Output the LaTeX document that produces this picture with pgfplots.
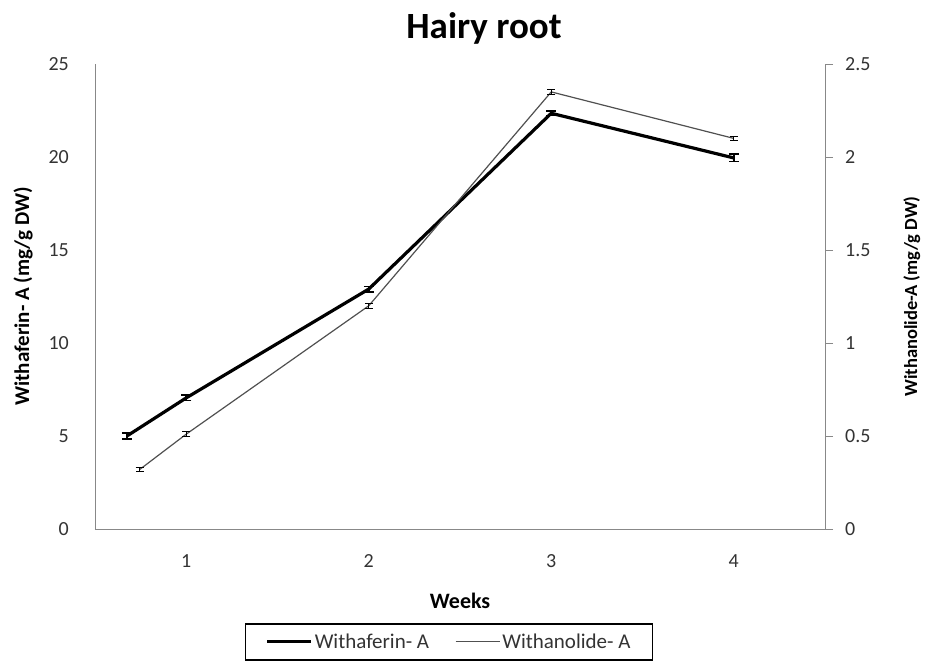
\documentclass[border=0pt]{standalone}
\usepackage{pgfplots}
\pgfplotsset{compat=1.18}
\usepackage{fontspec}
\setmainfont{Carlito}
\definecolor{axgray}{HTML}{888888}
\definecolor{txtgray}{HTML}{333333}
\definecolor{thingray}{HTML}{505050}
\begin{document}
\begin{tikzpicture}
\pgfplotsset{
  common/.style={
    scale only axis, width=730pt, height=465pt,
    xmin=0.5, xmax=4.5,
    axis line style={axgray, line width=0.9pt},
    tick label style={font=\fontsize{20}{22}\selectfont, text=txtgray, inner sep=0pt},
    /pgf/number format/assume math mode=true,
  },
}
\begin{axis}[common, name=main,
  ymin=0, ymax=25, ytick={0,5,10,15,20,25},
  axis x line*=bottom, axis y line*=left,
  xtick={1,2,3,4},
  major tick length=0pt,
  xticklabel style={anchor=center, yshift=-32pt},
  yticklabel style={anchor=east, xshift=-26pt},
  xlabel={Weeks},
  xlabel style={at={(axis description cs:0.5,0)}, anchor=center, yshift=-72pt,
    font=\bfseries\fontsize{22}{24}\selectfont},
  ylabel={Withaferin- A (mg/g DW)},
  ylabel style={at={(axis description cs:-0.0986,0.5)}, anchor=center,
    font=\bfseries\fontsize{21}{23}\selectfont},
]
\addplot[black, line width=3.2pt, mark=none,
  error bars/.cd, y dir=both, y explicit,
  error bar style={line width=1.5pt, black},
  error mark options={rotate=90, mark size=5pt, line width=1.5pt, black}]
  table[x=x, y=y, y error=e] {
x y e
0.675 5.00 0.15
1 7.05 0.15
2 12.90 0.15
3 22.35 0.12
4 19.95 0.20
};
\end{axis}
\begin{axis}[common,
  ymin=0, ymax=2.5, ytick={0,0.5,1,1.5,2,2.5},
  yticklabels={0,0.5,1,1.5,2,2.5},
  axis x line=none, axis y line*=right,
  major tick length=8pt,
  ytick style={axgray, line width=0.9pt},
  tick align=outside,
  yticklabel style={anchor=west, xshift=12pt},
  ylabel={Withanolide-A (mg/g DW)},
  ylabel style={at={(axis description cs:1.119,0.5)}, anchor=center,
    font=\bfseries\fontsize{18.5}{20}\selectfont},
  legend style={at={(axis description cs:0.485,-0.202)}, anchor=north,
    draw=black, line width=1.6pt, legend columns=2,
    font=\fontsize{21}{23}\selectfont, text=txtgray,
    inner xsep=20pt, inner ysep=8pt,
    /tikz/every even column/.append style={column sep=24pt}},
  legend image code/.code={\draw[#1] (0pt,0pt) -- (44pt,0pt);},
]
\addlegendimage{black, line width=3.2pt}
\addlegendentry{Withaferin- A}
\addplot[thingray, line width=1.2pt, mark=none,
  error bars/.cd, y dir=both, y explicit,
  error bar style={line width=1pt, black},
  error mark options={rotate=90, mark size=4pt, line width=1pt, black}]
  table[x=x, y=y, y error=e] {
x y e
0.745 0.32 0.012
1 0.51 0.012
2 1.20 0.012
3 2.35 0.012
4 2.10 0.012
};
\addlegendentry{Withanolide- A}
\end{axis}
\node[font=\bfseries\fontsize{37}{40}\selectfont, anchor=center]
  at ([xshift=389pt, yshift=36pt]main.north west) {Hairy root};
\pgfresetboundingbox
\path ([xshift=-95pt, yshift=-135pt]main.south west) rectangle ([xshift=111pt, yshift=64pt]main.north east);
\end{tikzpicture}
\end{document}
